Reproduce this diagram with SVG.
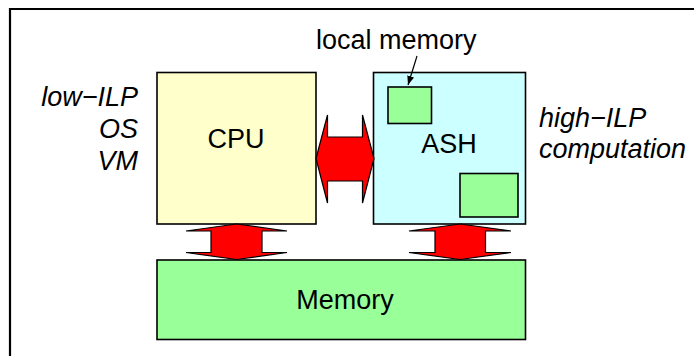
<svg xmlns="http://www.w3.org/2000/svg" width="697" height="356" viewBox="0 0 697 356">
<defs>
<style>
.box{stroke:#000;stroke-width:1.6}
.lbl{font-family:"Liberation Sans",Arial,sans-serif;font-size:27px;fill:#000}
.it{font-style:italic}
.arr{fill:#ff0000;stroke:#000;stroke-width:1.2;stroke-linejoin:miter}
</style>
<marker id="ah" markerWidth="10" markerHeight="10" refX="9" refY="5" orient="auto" markerUnits="userSpaceOnUse">
<path d="M0,1.5 L9,5 L0,8.5 Z" fill="#000"/>
</marker>
</defs>
<rect width="697" height="356" fill="#fff"/>
<path d="M10,357 V9 H694" fill="none" stroke="#000" stroke-width="2.2"/>
<g id="annotations">
<text class="lbl it" x="138" y="106" text-anchor="end">low−ILP</text>
<text class="lbl it" x="138" y="138" text-anchor="end">OS</text>
<text class="lbl it" x="138" y="170" text-anchor="end">VM</text>
<text class="lbl it" x="539" y="127">high−ILP</text>
<text class="lbl it" x="539" y="158">computation</text>
</g>
<g id="cpu">
<rect class="box" x="157" y="72.5" width="159" height="151.5" fill="#ffffcc"/>
<text class="lbl" x="236" y="148" text-anchor="middle">CPU</text>
</g>
<g id="ash">
<rect class="box" x="373.5" y="72.5" width="152" height="151.5" fill="#ccffff"/>
<text class="lbl" x="449" y="153" text-anchor="middle">ASH</text>
</g>
<g id="localmem1">
<rect class="box" x="388" y="87" width="43.5" height="36.5" fill="#99ff99"/>
</g>
<g id="localmem2">
<rect class="box" x="460" y="173.5" width="58" height="43.5" fill="#99ff99"/>
</g>
<g id="memory">
<rect class="box" x="157" y="260" width="368.5" height="79.5" fill="#99ff99"/>
<text class="lbl" x="345" y="309" text-anchor="middle">Memory</text>
</g>
<g id="localmem-label">
<text class="lbl" x="316" y="49">local memory</text>
</g>
<g id="connectors">
<line x1="417" y1="56" x2="408" y2="85" stroke="#000" stroke-width="1.2" marker-end="url(#ah)"/>
<polygon class="arr" points="316,158.5 327.5,115 327.5,137 362.5,137 362.5,115 374,158.5 362.5,203 362.5,181 327.5,181 327.5,203"/>
<polygon class="arr" points="236.5,224 287,231 262,231 262,252.5 287,252.5 236.5,259.5 186,252.5 211,252.5 211,231 186,231"/>
<polygon class="arr" points="460,224 511,231 485.5,231 485.5,252.5 511,252.5 460,259.5 409,252.5 435,252.5 435,231 409,231"/>
</g>
</svg>
